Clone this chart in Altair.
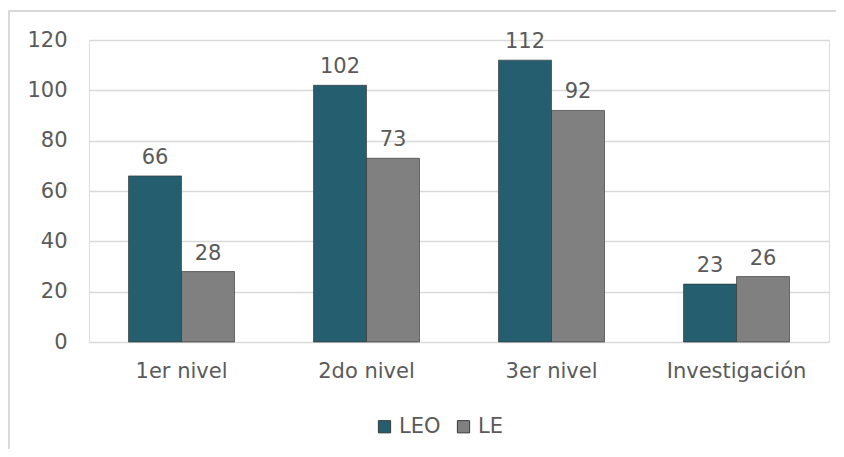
import altair as alt
import pandas as pd

categories = ["1er nivel", "2do nivel", "3er nivel", "Investigación"]
series = ["LEO", "LE"]
leo_values = [66, 102, 112, 23]
le_values = [28, 73, 92, 26]
y_ticks = [0, 20, 40, 60, 80, 100, 120]

rows = []
for c, a, b in zip(categories, leo_values, le_values):
    rows.append({"cat": c, "serie": "LEO", "valor": a})
    rows.append({"cat": c, "serie": "LE", "valor": b})
df = pd.DataFrame(rows)

FONT = "DejaVu Sans"
TXT = "#5a5a5a"
FS = 21

x_enc = alt.X("cat:N", sort=categories, title=None,
              scale=alt.Scale(paddingInner=0.427, paddingOuter=0.2135),
              axis=alt.Axis(labelFontSize=FS, labelColor=TXT, labelFont=FONT,
                            labelPadding=18, ticks=False, domain=False,
                            labelAngle=0))
y_enc = alt.Y("valor:Q", title=None,
              scale=alt.Scale(domain=[0, 120], nice=False),
              axis=alt.Axis(values=y_ticks, labelFontSize=FS, labelColor=TXT,
                            labelFont=FONT,
                            labelPadding=22, ticks=False,
                            domain=False, gridColor="#d9d9d9", gridWidth=1.5))
color_enc = alt.Color("serie:N", sort=series,
                      scale=alt.Scale(domain=series, range=["#255e6e", "#808080"]),
                      legend=alt.Legend(title=None, orient="none", direction="horizontal",
                                        legendX=285, legendY=376,
                                        symbolType="square", symbolSize=150,
                                        symbolStrokeColor="#3a3a3a", symbolStrokeWidth=1,
                                        labelFontSize=FS, labelFont=FONT, labelColor=TXT,
                                        columnPadding=12, labelOffset=4))

base = alt.Chart(df)

border = alt.Chart(df).mark_rect(fill="transparent", stroke="#d9d9d9", strokeWidth=2).encode(
    x=alt.value(-80), x2=alt.value(820), y=alt.value(-29), y2=alt.value(440)
)

bars = base.mark_bar(stroke="#2b2b2b", strokeWidth=1, strokeOpacity=0.6).encode(
    x=x_enc,
    xOffset=alt.XOffset("serie:N", sort=series),
    y=y_enc,
    color=color_enc,
)

labels = base.mark_text(baseline="bottom", dy=-8, fontSize=FS, font=FONT, color=TXT).encode(
    x=alt.X("cat:N", sort=categories),
    xOffset=alt.XOffset("serie:N", sort=series),
    y="valor:Q",
    text="valor:Q",
)

chart = alt.layer(border, bars, labels).properties(
    width=740, height=302,
    padding={"left": 81, "top": 32, "right": 7, "bottom": 107},
    autosize=alt.AutoSizeParams(type="none"),
).configure_view(stroke=None).configure(background="white")

chart.save("out.html", embed_options={"renderer": "svg", "actions": False})
